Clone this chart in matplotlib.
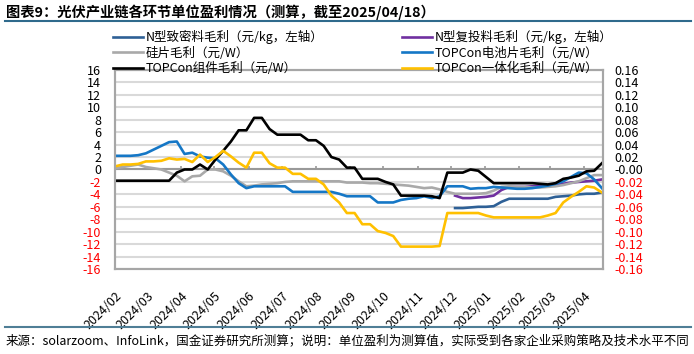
import matplotlib
matplotlib.use("Agg")
import matplotlib.pyplot as plt
import numpy as np
import pandas as pd
from matplotlib.lines import Line2D

plt.rcParams['font.family'] = ['Noto Sans CJK SC', 'DejaVu Sans']
plt.rcParams['axes.unicode_minus'] = False

# ── Data (weekly, 2024-02-01 .. 2025-04-17) ───────────────────────────────
dates = pd.date_range('2024-02-01', periods=64, freq='7D')
nan = np.nan

# left axis, 元/kg
dense_poly = [nan] * 44 + [-6.2, -6.2, -6.1, -6.0, -6.0, -5.9, -5.2, -4.7, -4.7, -4.7,
                           -4.7, -4.7, -4.7, -4.4, -4.3, -4.2, -4.0, -3.9, -3.9, -3.7]
recharge_poly = [nan] * 44 + [-4.2, -4.6, -4.6, -4.5, -4.4, -4.2, -3.3, -2.8, -2.8, -2.8,
                              -2.7, -2.6, -2.6, -2.5, -2.3, -2.1, -2.0, -1.9, -1.8, -1.6]

# right axis, 元/W
wafer = [0.002, 0.004, 0.006, 0.008, 0.004, 0.002, 0.000, -0.005, -0.010, -0.019,
         -0.011, -0.010, 0.000, 0.000, -0.003, -0.010, -0.019, -0.027, -0.026, -0.024,
         -0.023, -0.022, -0.020, -0.019, -0.019, -0.019, -0.019, -0.019, -0.019, -0.019,
         -0.021, -0.021, -0.021, -0.022, -0.022, -0.023, -0.024, -0.025, -0.026, -0.028,
         -0.030, -0.029, -0.032, -0.036, -0.039, -0.039, -0.039, -0.039, -0.038, -0.034,
         -0.028, -0.027, -0.028, -0.028, -0.029, -0.029, -0.028, -0.027, -0.025, -0.022,
         -0.019, -0.014, -0.009, -0.009]
cell = [0.022, 0.022, 0.022, 0.023, 0.026, 0.032, 0.038, 0.044, 0.045, 0.025,
        0.027, 0.021, 0.019, 0.018, 0.008, -0.008, -0.022, -0.030, -0.027, -0.027,
        -0.027, -0.027, -0.027, -0.036, -0.036, -0.036, -0.036, -0.036, -0.036, -0.039,
        -0.043, -0.043, -0.043, -0.043, -0.053, -0.053, -0.053, -0.049, -0.047, -0.046,
        -0.043, -0.046, -0.043, -0.027, -0.027, -0.027, -0.031, -0.030, -0.030, -0.028,
        -0.029, -0.030, -0.031, -0.031, -0.030, -0.028, -0.026, -0.023, -0.019, -0.012,
        -0.005, -0.006, -0.016, -0.030]
module = [-0.018, -0.018, -0.018, -0.018, -0.018, -0.018, -0.018, -0.018, -0.005, 0.000,
          0.000, 0.008, 0.000, 0.016, 0.030, 0.045, 0.063, 0.063, 0.083, 0.083,
          0.065, 0.056, 0.056, 0.056, 0.056, 0.047, 0.047, 0.038, 0.020, 0.016,
          0.003, 0.003, -0.015, -0.015, -0.015, -0.020, -0.024, -0.042, -0.042, -0.042,
          -0.042, -0.043, -0.046, -0.005, -0.005, -0.005, 0.000, -0.002, -0.012, -0.022,
          -0.022, -0.022, -0.022, -0.022, -0.022, -0.023, -0.024, -0.022, -0.015, -0.013,
          -0.010, -0.003, -0.002, 0.010]
integrated = [0.005, 0.008, 0.008, 0.009, 0.013, 0.013, 0.014, 0.018, 0.016, 0.017,
              0.012, 0.024, 0.012, 0.020, 0.030, 0.021, 0.011, 0.003, 0.027, 0.027,
              0.010, 0.003, 0.003, -0.007, -0.007, -0.015, -0.015, -0.024, -0.042, -0.053,
              -0.070, -0.070, -0.088, -0.088, -0.099, -0.102, -0.107, -0.124, -0.124, -0.124,
              -0.124, -0.124, -0.123, -0.070, -0.070, -0.070, -0.070, -0.070, -0.074, -0.077,
              -0.077, -0.077, -0.077, -0.077, -0.077, -0.077, -0.074, -0.070, -0.053, -0.044,
              -0.036, -0.027, -0.029, -0.037]

labels = ['N型致密料毛利（元/kg，左轴）', 'N型复投料毛利（元/kg，左轴）', '硅片毛利（元/W）',
          'TOPCon电池片毛利（元/W）', 'TOPCon组件毛利（元/W）', 'TOPCon一体化毛利（元/W）']
colors = ['#2E6096', '#7030A0', '#A9A9A9', '#1577C6', '#000000', '#FFC000']

month_ticks = pd.date_range('2024-02-01', '2025-04-01', freq='MS')
month_labels = [d.strftime('%Y/%m') for d in month_ticks]
left_ticks = np.arange(-16, 17, 2)
right_ticks = np.round(np.arange(-0.16, 0.161, 0.02), 2)

# ── Figure ────────────────────────────────────────────────────────────────
fig = plt.figure(figsize=(6.94, 3.54), dpi=100)
ax = fig.add_axes([0.1657, 0.2401, 0.7032, 0.5622])
ax2 = ax.twinx()

frame = '#A6A6A6'
ax.set_ylim(-16, 16)
ax2.set_ylim(-0.16, 0.16)
ax.set_xlim(pd.Timestamp('2024-02-01'), pd.Timestamp('2025-04-18'))

for y in left_ticks:
    ax.axhline(y, color='#D9D9D9', lw=1.5, zorder=0)
ax.axhline(0, color='#999999', lw=1.5, zorder=1)
ax.vlines(month_ticks, 0, 0.55, color='#999999', lw=1.2, zorder=1)

lw = 1.9
ax.plot(dates, dense_poly, color=colors[0], lw=lw, zorder=3)
ax.plot(dates, recharge_poly, color=colors[1], lw=lw, zorder=3)
ax2.plot(dates, wafer, color=colors[2], lw=lw)
ax2.plot(dates, cell, color=colors[3], lw=lw)
ax2.plot(dates, module, color=colors[4], lw=lw)
ax2.plot(dates, integrated, color=colors[5], lw=lw)

for a in (ax, ax2):
    for s in a.spines.values():
        s.set_color(frame)
        s.set_linewidth(1.5)

ax.set_yticks(left_ticks)
ax.set_yticklabels([str(v) for v in left_ticks], fontsize=9)
ax.tick_params(axis='y', length=0, pad=10)
for t, v in zip(ax.get_yticklabels(), left_ticks):
    t.set_color('#FF0000' if v < 0 else '#000000')

ax2.set_yticks(right_ticks)
ax2.set_yticklabels([f'{v:.2f}' for v in right_ticks], fontsize=9)
ax2.tick_params(axis='y', length=0, pad=8)
for t, v in zip(ax2.get_yticklabels(), right_ticks):
    t.set_color('#FF0000' if v < 0 else '#000000')

ax.set_xticks(month_ticks)
ax.set_xticklabels(month_labels, rotation=45, ha='right', rotation_mode='anchor', fontsize=9)
ax.tick_params(axis='x', length=0, pad=15)

# ── Legend ────────────────────────────────────────────────────────────────
order = [0, 2, 4, 1, 3, 5]
handles = [Line2D([], [], color=colors[i], lw=1.9) for i in order]
fig.legend(handles, [labels[i] for i in order], ncol=2, loc='upper left',
           bbox_to_anchor=(0.163, 0.915), frameon=False, fontsize=9,
           handlelength=2.4, handletextpad=0.2, columnspacing=6.3,
           labelspacing=0.2, borderpad=0, borderaxespad=0)

# ── Title / source ────────────────────────────────────────────────────────
fig.text(0.008, 1 - 12 / 354, '图表9：光伏产业链各环节单位盈利情况（测算，截至2025/04/18）',
         fontsize=10.3, fontweight='bold', va='center', ha='left')
fig.add_artist(Line2D([0.007, 0.995], [1 - 21 / 354] * 2, color='#2F6A8C', lw=1.5))
fig.add_artist(Line2D([0.007, 0.995], [1 - 327 / 354] * 2, color='#4F7E96', lw=1.5))
fig.text(0.008, 1 - 341 / 354,
         '来源：solarzoom、InfoLink，国金证券研究所测算；说明：单位盈利为测算值，实际受到各家企业采购策略及技术水平不同',
         fontsize=9.0, va='center', ha='left')

fig.savefig('out.png', dpi=100)
